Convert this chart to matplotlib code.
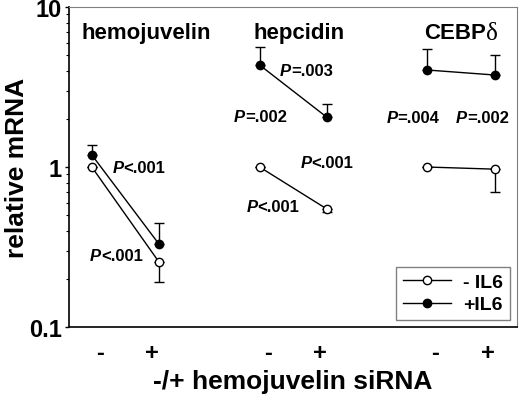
import numpy as np
import matplotlib
matplotlib.use('Agg')
import matplotlib.pyplot as plt
from matplotlib.lines import Line2D

plt.rcParams['font.family'] = ['Liberation Sans', 'DejaVu Sans']
plt.rcParams['font.weight'] = 'bold'

# x positions of the two conditions in each gene group
genes = ['hemojuvelin', 'hepcidin', 'CEBP']
x_pos = [[0, 1], [2.5, 3.5], [5, 6]]
tick_labels = ['-', '+']

# relative mRNA, -IL6 (open) and +IL6 (filled)
minus_il6 = [[1.0, 0.255], [1.0, 0.547], [1.0, 0.97]]
plus_il6 = [[1.19, 0.33], [4.34, 2.05], [4.04, 3.76]]
# one-sided error bars: lower for -IL6, upper for +IL6
minus_err_low = [[0.0, 0.065], [0.0, 0.025], [0.0, 0.27]]
plus_err_up = [[0.18, 0.117], [1.26, 0.43], [1.43, 1.24]]

# p-value labels: (text after P, left x, y)
p_labels = [
    ('<.001', 0.31, 1.0),
    ('<.001', -0.03, 0.278),
    ('=.003', 2.8, 4.04),
    ('=.002', 2.12, 2.08),
    ('<.001', 3.11, 1.07),
    ('<.001', 2.30, 0.57),
    ('=.004', 4.39, 2.05),
    ('=.002', 5.42, 2.05),
]

fig = plt.figure(figsize=(5.2, 4.02), dpi=100)
ax = fig.add_axes([0.1327, 0.184, 0.861, 0.796])
ax.set_yscale('log')
ax.set_ylim(0.1, 10)
ax.set_xlim(-0.34, 6.33)

for i in range(3):
    xs = x_pos[i]
    ax.errorbar(xs, minus_il6[i], yerr=[minus_err_low[i], [0, 0]],
                fmt='none', ecolor='black', elinewidth=1.0, capsize=3.6, capthick=1.0)
    ax.errorbar(xs, plus_il6[i], yerr=[[0, 0], plus_err_up[i]],
                fmt='none', ecolor='black', elinewidth=1.0, capsize=3.6, capthick=1.0)
    ax.plot(xs, minus_il6[i], '-o', color='black', mfc='white', mec='black',
            ms=6, lw=1.0, mew=1.0, zorder=3)
    ax.plot(xs, plus_il6[i], '-o', color='black', mfc='black', mec='black',
            ms=6, lw=1.0, mew=1.0, zorder=3)

# group titles
ax.text(0.81, 6.9, 'hemojuvelin', ha='center', va='center', fontsize=16, fontweight='bold')
ax.text(3.08, 6.9, 'hepcidin', ha='center', va='center', fontsize=16, fontweight='bold')
ax.text(5.87, 6.9, 'CEBP', ha='right', va='center', fontsize=16, fontweight='bold')
ax.text(5.87, 6.9, 'δ', ha='left', va='center', fontsize=18,
        family=['Liberation Serif', 'DejaVu Serif'], fontweight='normal')

for txt, x, y in p_labels:
    ax.text(x, y, 'P', ha='left', va='center', fontsize=12,
            fontweight='bold', fontstyle='italic')
    ax.annotate(txt, (x, y), xytext=(8, 0), textcoords='offset points',
                ha='left', va='center', fontsize=12, fontweight='bold')

ticks = []
labels = []
for xs in x_pos:
    ticks += [xs[0] + 0.12, xs[1] - 0.1]
    labels += tick_labels
ax.set_xticks(ticks)
ax.set_xticklabels(labels, fontsize=17, fontweight='bold')
ax.tick_params(axis='x', length=0, pad=10)

ax.set_yticks([0.1, 1, 10])
ax.set_yticklabels(['0.1', '1', '10'], fontsize=17, fontweight='bold')
ax.tick_params(axis='y', which='major', length=3, width=1, direction='out', pad=2)
ax.tick_params(axis='y', which='minor', length=2.5, width=0.8, direction='out')

ax.set_ylabel('relative mRNA', fontsize=19, fontweight='bold', labelpad=0)
ax.set_xlabel('-/+ hemojuvelin siRNA', fontsize=19, fontweight='bold', labelpad=4)

ax.spines['left'].set_linewidth(1.2)
ax.spines['bottom'].set_linewidth(1.2)
ax.spines['top'].set_color('#808080')
ax.spines['right'].set_color('#808080')

handles = [
    Line2D([], [], color='black', marker='o', mfc='white', mec='black', ms=6, lw=1.0),
    Line2D([], [], color='black', marker='o', mfc='black', mec='black', ms=6, lw=1.0),
]
leg = ax.legend(handles, ['- IL6', '+IL6'], loc='lower right',
                frameon=True, fancybox=False, handlelength=2.5,
                borderaxespad=0.35, handletextpad=0.6, borderpad=0.35, labelspacing=0.25,
                prop={'weight': 'bold', 'size': 14})
leg.get_frame().set_edgecolor('#606060')
leg.get_frame().set_linewidth(1.0)

fig.savefig('out.png', dpi=100)
